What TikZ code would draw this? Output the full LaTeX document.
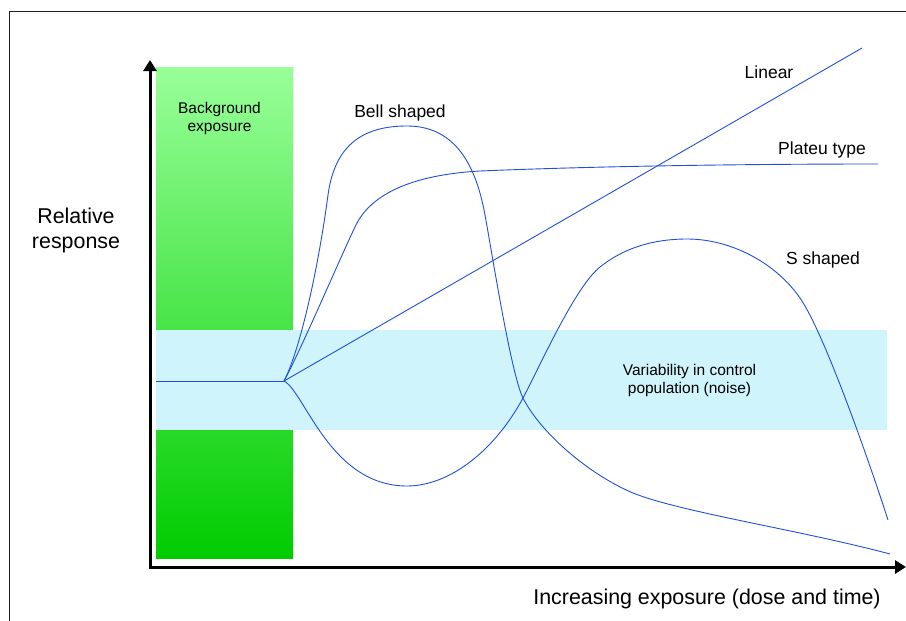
\documentclass[tikz,border=0pt]{standalone}
\usepackage{fontspec}
\setmainfont{Liberation Sans}
\usetikzlibrary{arrows.meta}
\definecolor{curvec}{RGB}{32,80,216}
\definecolor{bandc}{RGB}{208,244,252}
\definecolor{gtop}{RGB}{153,255,153}
\definecolor{gbot}{RGB}{0,204,0}
\definecolor{framec}{RGB}{30,30,30}
\tikzset{
  resp/.style={draw=curvec, line width=0.9pt},
  axisline/.style={line width=3pt, black, {Triangle[width=13pt,length=11pt]}-{Triangle[width=13pt,length=11pt]}},
  lblS/.style={align=center, inner sep=0pt, font=\fontsize{15.5}{18}\selectfont},
  lblM/.style={align=center, inner sep=0pt, font=\fontsize{17.5}{20}\selectfont},
  lblL/.style={align=center, inner sep=0pt, font=\fontsize{21.4}{25}\selectfont},
}
\begin{document}
\begin{tikzpicture}[x=1pt,y=-1pt]
\useasboundingbox (0,0) rectangle (906,621);
% frame
\draw[framec, line width=1pt] (9,640) -- (9,11.5) -- (920,11.5);
% green background exposure
\shade[top color=gtop, bottom color=gbot] (156,67) rectangle (293,558);
% cyan noise band
\fill[bandc] (156,330) rectangle (887,430);
% axes
\coordinate (ytip) at (150,60);
\coordinate (origin) at (150,567);
\coordinate (xtip) at (906,567);
\draw[axisline] (ytip) -- (origin) -- (xtip);
% response curves
\coordinate (start) at (156,381);
\coordinate (j) at (284,381);
\coordinate (linend) at (862,48);
\draw[resp] (start) -- (j);
\draw[resp] (j) -- (linend);
% plateau
\draw[resp] (j) .. controls (302,348) and (347,242) .. (357,223)
  .. controls (372,195) and (410,175) .. (480,171)
  .. controls (600,166) and (750,164) .. (878,164);
% bell shaped
\draw[resp] (j) .. controls (300,350) and (318,270) .. (328,195)
  .. controls (335,143) and (365,126) .. (407,126)
  .. controls (452,126) and (475,160) .. (485,215)
  .. controls (492,253) and (511,374) .. (523,398)
  .. controls (540,432) and (588,474) .. (633,493)
  .. controls (680,512) and (800,530) .. (890,554);
% S shaped
\draw[resp] (j) .. controls (305,392) and (330,486) .. (407,486)
  .. controls (450,486) and (495,450) .. (523,398)
  .. controls (541,364) and (575,287) .. (600,267)
  .. controls (625,247) and (655,239) .. (687,239)
  .. controls (730,239) and (775,262) .. (800,298)
  .. controls (825,334) and (872,470) .. (888,520);
% labels
\node[lblS] (bg) at (219.5,118) {Background\\exposure};
\node[lblL] (rel) at (76,230) {Relative\\response};
\node[lblS] (noise) at (689.5,380) {Variability in control\\population (noise)};
\node[lblL] (incr) at (707,599) {Increasing exposure (dose and time)};
\node[lblM] (lin) at (769,72) {Linear};
\node[lblM] (plat) at (822,150) {Plateu type};
\node[lblM] (sshape) at (823,260) {S shaped};
\node[lblM] (bell) at (400,113) {Bell shaped};
\end{tikzpicture}
\end{document}
